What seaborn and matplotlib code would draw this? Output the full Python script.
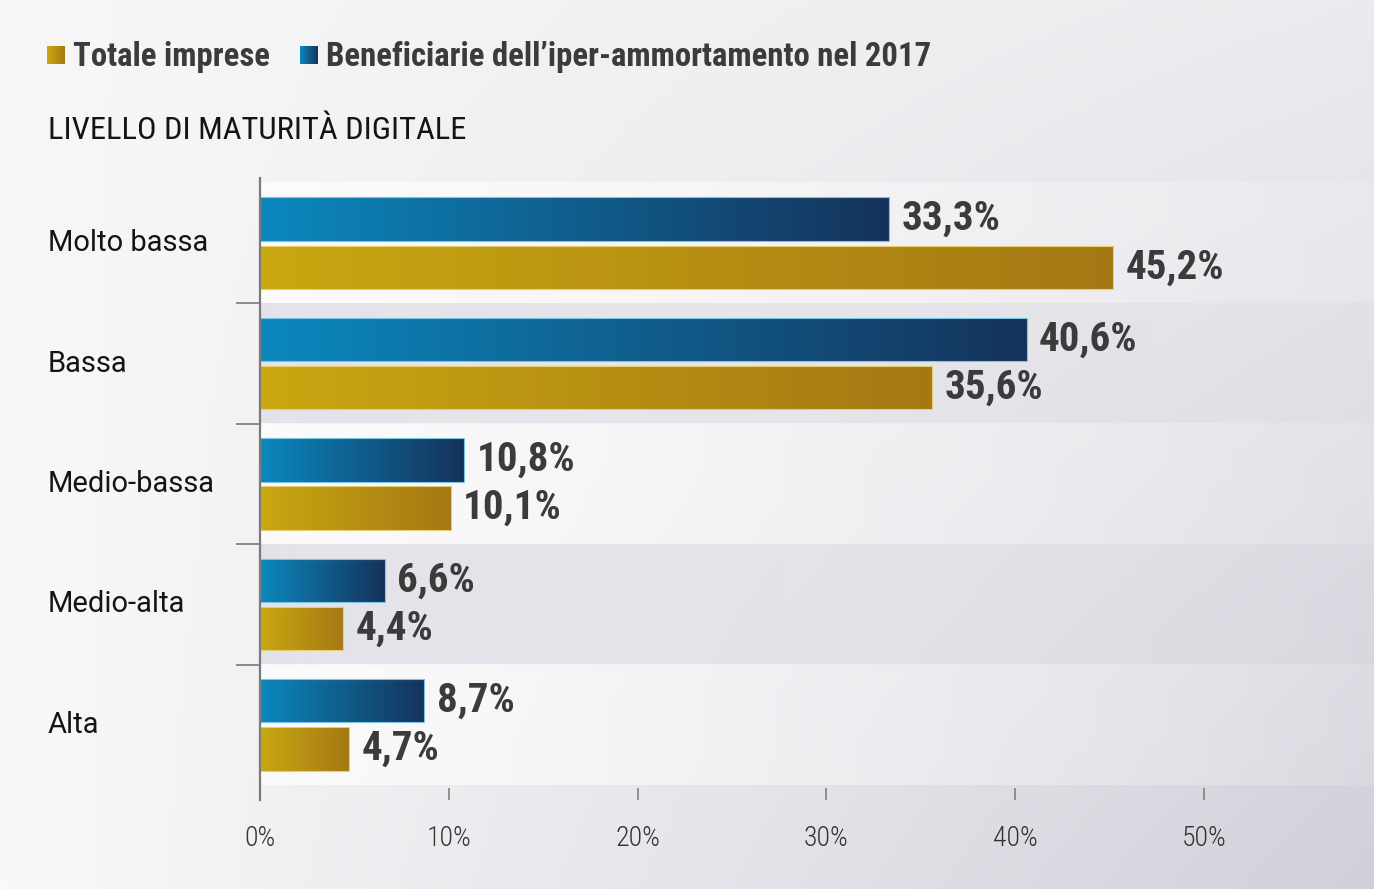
import numpy as np
import pandas as pd
import matplotlib
matplotlib.use("Agg")
import matplotlib.pyplot as plt
import matplotlib.transforms as mtransforms
from matplotlib.colors import to_rgb
import seaborn as sns

# data
categories = ["Molto bassa", "Bassa", "Medio-bassa", "Medio-alta", "Alta"]
beneficiarie = [33.3, 40.6, 10.8, 6.6, 8.7]
totale = [45.2, 35.6, 10.1, 4.4, 4.7]
series_names = ["Beneficiarie dell\u2019iper-ammortamento nel 2017", "Totale imprese"]
xticks = [0, 10, 20, 30, 40, 50]
xtick_labels = ["0%", "10%", "20%", "30%", "40%", "50%"]

BLUE = ("#0b88be", "#15335b")
GOLD = ("#c9a811", "#a57814")
COND = ["Roboto Condensed", "Barlow Semi Condensed", "DejaVu Sans"]
REGULAR = ["Roboto", "DejaVu Sans"]

W, H = 1374, 889


def hgrad(c0, c1, n=256):
    a, b = np.array(to_rgb(c0)), np.array(to_rgb(c1))
    t = np.linspace(0, 1, n)[:, None]
    return (a + (b - a) * t)[None, :, :]


sns.set_theme(style="white")
plt.rcParams["font.family"] = COND

fig = plt.figure(figsize=(W / 100, H / 100), dpi=100)

# background gradient over the whole figure
bg = fig.add_axes([0, 0, 1, 1], zorder=-10)
tl, tr = np.array(to_rgb("#f7f7f7")), np.array(to_rgb("#ebebef"))
bl, br = np.array(to_rgb("#f9f9fa")), np.array(to_rgb("#d0d0da"))
xs = np.linspace(0, 1, 200)[None, :, None]
ys = np.linspace(0, 1, 200)[:, None, None]
img = (tl * (1 - xs) + tr * xs) * (1 - ys) + (bl * (1 - xs) + br * xs) * ys
bg.imshow(img, aspect="auto", extent=[0, 1, 0, 1], origin="upper")
bg.set_axis_off()

# main axes
x_left, x_right = 260, W
y_top, y_bottom = 178, 800
ax = fig.add_axes([x_left / W, (H - y_bottom) / H,
                   (x_right - x_left) / W, (y_bottom - y_top) / H])
ax.patch.set_alpha(0)

df = pd.DataFrame({
    "categoria": categories * 2,
    "valore": beneficiarie + totale,
    "serie": [series_names[0]] * len(categories) + [series_names[1]] * len(categories),
})
sns.barplot(data=df, y="categoria", x="valore", hue="serie", hue_order=series_names,
            order=categories, orient="h", width=0.8, gap=0.1, legend=False,
            palette=[BLUE[0], GOLD[0]], ax=ax, zorder=3)

px_per_unit = 18.88
xmax = (x_right - x_left) / px_per_unit
row_px = 120.4

# alternating row bands
for i in range(len(categories)):
    if i % 2 == 1:
        c = np.array(to_rgb("#e0e0e7"))
        alpha = np.linspace(0.85, 0.1, 256)
    else:
        c = np.array([1.0, 1.0, 1.0])
        alpha = np.linspace(0.7, 0.15, 256)
    band = np.zeros((1, 256, 4))
    band[..., :3] = c
    band[..., 3] = alpha
    ax.imshow(band, aspect="auto", extent=[0, xmax, i + 0.5, i - 0.5], zorder=1)

# gradient fill for each bar
for cont, (c0, c1), edge in zip(ax.containers, [BLUE, GOLD], ["#7cc3e6", "#e6cf70"]):
    for bar in cont:
        x0, y0 = bar.get_x(), bar.get_y()
        w, h = bar.get_width(), bar.get_height()
        im = ax.imshow(hgrad(c0, c1), aspect="auto",
                       extent=[x0, x0 + w, y0 + h, y0], zorder=4)
        im.set_clip_path(bar)
        bar.set_edgecolor(edge)
        bar.set_linewidth(0.8)
        bar.set_zorder(5)
        bar.set_facecolor("none")
    vals = [b.get_width() for b in cont]
    ax.bar_label(cont, labels=[f"{v:.1f}%".replace(".", ",") for v in vals],
                 padding=9, fontsize=29.5, fontweight="bold", color="#3b3b3b",
                 family=COND, zorder=6)

ax.set_xlim(0, xmax)
ax.set_ylim(4.5 + 15 / row_px, -0.5 - 5 / row_px)

# axes styling
for s in ["top", "right", "bottom"]:
    ax.spines[s].set_visible(False)
ax.spines["left"].set_color("#7a7a7a")
ax.spines["left"].set_linewidth(1.6)
ax.spines["left"].set_zorder(7)

ax.set_xticks(xticks, labels=xtick_labels)
ax.tick_params(axis="x", direction="in", length=8.6, width=1.2, color="#808080",
               pad=18, labelsize=20, labelcolor="#333333", bottom=True)
for lab in ax.get_xticklabels():
    lab.set_fontweight("light")
ax.set_yticks([0.5, 1.5, 2.5, 3.5], labels=[""] * 4)
ax.tick_params(axis="y", direction="out", length=17, width=1.4, color="#8a8a8a", left=True)
ax.set_xlabel("")
ax.set_ylabel("")

# category labels
trans = mtransforms.blended_transform_factory(fig.transFigure, ax.transData)
for i, cat in enumerate(categories):
    ax.text(48 / W, i, cat, transform=trans, ha="left", va="center",
            fontsize=21, color="#141414", family=REGULAR)

# legend
legend_items = [(series_names[1], GOLD, 47, 73), (series_names[0], BLUE, 300, 326)]
for name, (c0, c1), sx, tx in legend_items:
    sq = fig.add_axes([sx / W, (H - 64) / H, 18 / W, 18 / H])
    sq.imshow(hgrad(c0, c1), aspect="auto")
    sq.set_axis_off()
    fig.text(tx / W, (H - 66) / H, name, ha="left", va="baseline",
             fontsize=23.6, fontweight="bold", color="#3b3b3b", family=COND)

fig.text(48 / W, (H - 139) / H, "LIVELLO DI MATURIT\u00c0 DIGITALE", ha="left",
         va="baseline", fontsize=23.4, color="#141414", family=COND)

fig.savefig("out.png", dpi=100)
